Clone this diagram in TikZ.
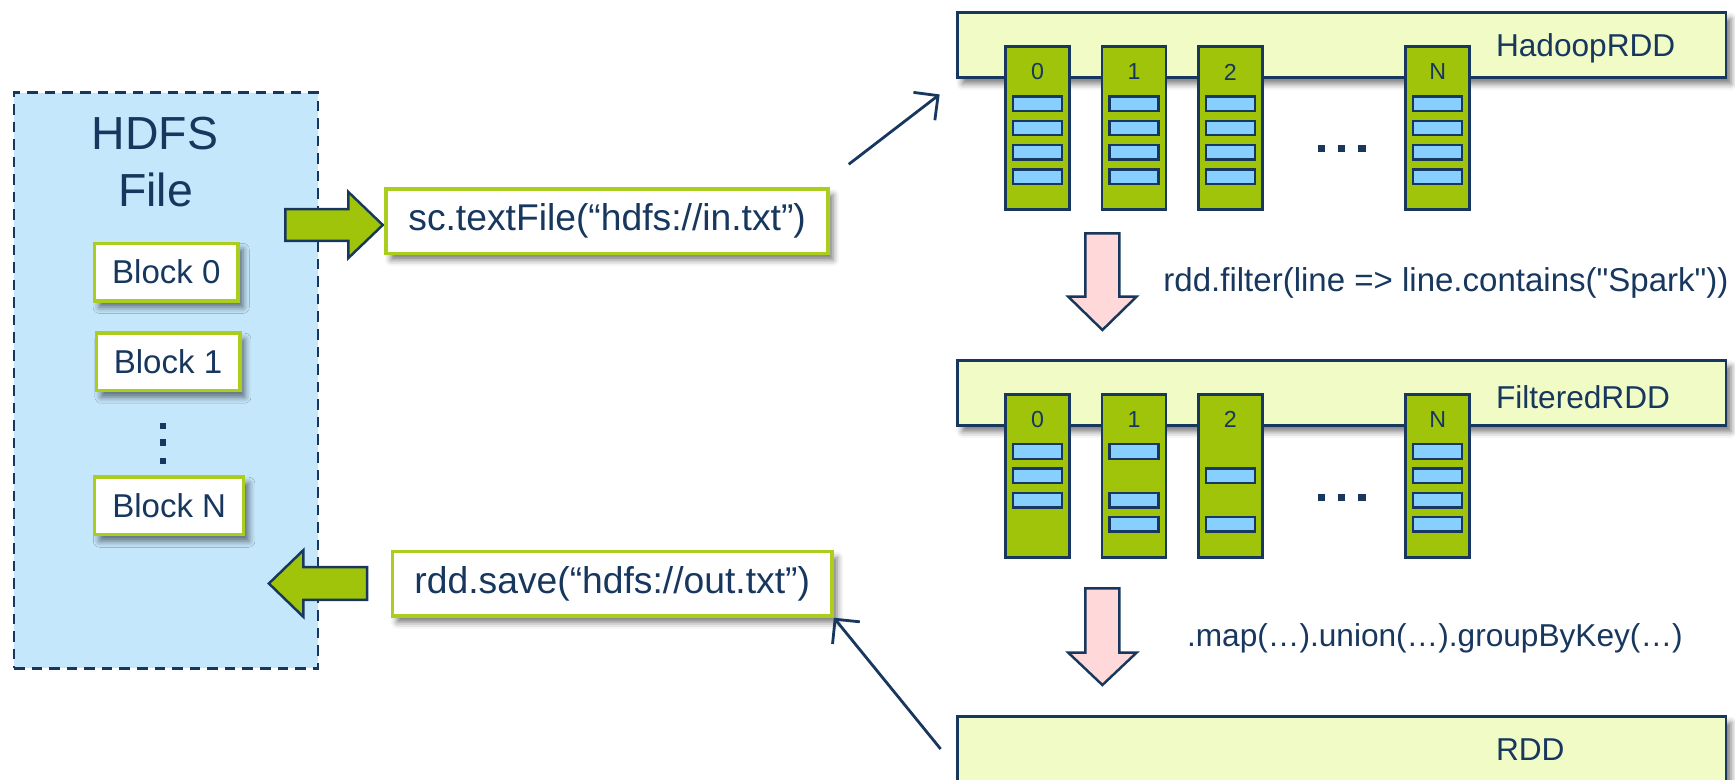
\documentclass[tikz,border=0pt]{standalone}
\usepackage{fontspec}
\setmainfont{Liberation Sans}[Ligatures=TeXOff]
\usetikzlibrary{arrows.meta, calc, shadows.blur}

\definecolor{navy}{HTML}{17375E}
\definecolor{hdfsfill}{HTML}{C5E7FB}
\definecolor{limeedge}{HTML}{AACD1E}
\definecolor{sparkgreen}{HTML}{9FC409}
\definecolor{bandfill}{HTML}{F0FBC5}
\definecolor{barblue}{HTML}{87CFFF}
\definecolor{pinkfill}{HTML}{FFD9D9}

\begin{document}
\begin{tikzpicture}
    \tikzset{
        every node/.style={text=navy, inner sep=0pt},
        softshadow/.style={blur shadow={shadow xshift=1.4pt, shadow yshift=-1.8pt,
            shadow blur radius=1.8pt, shadow opacity=55}},
        hdfsbox/.style={draw=navy, fill=hdfsfill, line width=0.8pt,
            dash pattern=on 3pt off 2pt, minimum width=3.04cm, minimum height=5.756cm},
        block/.style={draw=limeedge, fill=white, line width=1pt, softshadow,
            font=\fontsize{9.4}{11}\selectfont, minimum height=0.574cm, inner xsep=5pt},
        codebox/.style={draw=limeedge, fill=white, line width=1pt, softshadow,
            font=\fontsize{10.6}{12}\selectfont, minimum height=0.643cm, inner xsep=6.3pt},
        band/.style={draw=navy, fill=bandfill, line width=0.8pt, softshadow,
            minimum width=7.683cm, minimum height=0.646cm},
        part/.style={draw=navy, fill=sparkgreen, line width=0.8pt, anchor=north,
            minimum width=0.64cm, minimum height=1.63cm},
        bar/.style={draw=navy, fill=barblue, line width=0.7pt,
            minimum width=0.49cm, minimum height=0.145cm},
        partlabel/.style={font=\fontsize{6.6}{8}\selectfont},
        bandlabel/.style={font=\fontsize{9}{11}\selectfont, anchor=west},
        oplabel/.style={font=\fontsize{9.4}{11}\selectfont, anchor=west},
        biglabel/.style={font=\fontsize{13.2}{16}\selectfont, anchor=base},
        fat/.style={draw=navy, fill=sparkgreen, line width=0.7pt, line join=miter},
        pinkfat/.style={draw=navy, fill=pinkfill, line width=0.7pt, line join=miter},
        link/.style={draw=navy, line width=0.8pt, -{Straight Barb[length=5pt, width=10pt]}}
    }

    % 1. 画布大小
    \useasboundingbox (0,0) rectangle (17.35,7.79);
    \clip (0,0) rectangle (17.35,7.79);

    % 2. 左侧 HDFS 文件
    \node[hdfsbox] (hdfs) at (1.66, 3.986) {};
    \node[biglabel] (hdfsLabel) at (1.55, 6.297) {HDFS};
    \node[biglabel] (fileLabel) at (1.555, 5.723) {File};
    \node[block] (block0) at (1.663, 5.069) {Block 0};
    \node[block] (block1) at (1.680, 4.171) {Block 1};
    \node[block] (blockN) at (1.692, 2.731) {Block N};
    % 竖直省略号
    \foreach \y in {3.532, 3.367, 3.180}
        \fill[navy] (1.603, \y-0.032) rectangle ++(0.06, 0.065);

    % 3. 读入 / 写出 的绿色箭头
    \draw[fat] (2.854,5.382) -- (3.484,5.382) -- (3.484,5.210) -- (3.828,5.540)
        -- (3.484,5.870) -- (3.484,5.698) -- (2.854,5.698) -- cycle;
    \draw[fat] (3.671,1.792) -- (3.033,1.792) -- (3.033,1.622) -- (2.689,1.955)
        -- (3.033,2.288) -- (3.033,2.118) -- (3.671,2.118) -- cycle;

    \node[codebox] (textfile) at (6.071, 5.578) {sc.textFile(“hdfs://in.txt”)};
    \node[codebox] (save) at (6.122, 1.952) {rdd.save(“hdfs://out.txt”)};

    % 4. 三个 RDD 条带
    \node[band] (hadoop) at (13.419, 7.340) {};
    \node[band] (filtered) at (13.419, 3.862) {};
    \node[band] (rdd) at (13.419, 0.300) {};
    \node[bandlabel] (hadoopLabel) at (14.953, 7.307) {HadoopRDD};
    \node[bandlabel] (filteredLabel) at (14.953, 3.823) {FilteredRDD};
    \node[bandlabel] (rddLabel) at (14.953, 0.290) {RDD};

    % 5. 分区 (HadoopRDD: 每个分区 4 条记录)
    \foreach \x/\lab in {10.376/0, 11.340/1, 12.303/2, 14.377/N} {
        \node[part] (h\lab) at (\x, 7.340) {};
        \node[partlabel] (h\lab-num) at ($(h\lab.north)+(0,-0.27)$) {\lab};
        \foreach \s in {1,...,4}
            \node[bar] (h\lab-\s) at ($(h\lab.north)+(0,-0.587-0.243*\s+0.243)$) {};
    }
    % FilteredRDD: 过滤后剩下的记录
    \foreach \x/\lab/\slots in {10.376/0/{1,2,3}, 11.340/1/{1,3,4}, 12.303/2/{2,4}, 14.377/N/{1,2,3,4}} {
        \node[part] (f\lab) at (\x, 3.862) {};
        \node[partlabel] (f\lab-num) at ($(f\lab.north)+(0,-0.27)$) {\lab};
        \foreach \s in \slots
            \node[bar] (f\lab-\s) at ($(f\lab.north)+(0,-0.587-0.243*\s+0.243)$) {};
    }
    % 水平省略号
    \foreach \y in {6.307, 2.817}
        \foreach \x in {13.213, 13.416, 13.619}
            \fill[navy] (\x-0.0375, \y-0.0375) rectangle ++(0.075, 0.075);

    % 6. 转换箭头 (粉色)
    \draw[pinkfat] (10.854,5.457) -- (11.194,5.457) -- (11.194,4.823) -- (11.365,4.823)
        -- (11.024,4.490) -- (10.683,4.823) -- (10.854,4.823) -- cycle;
    \draw[pinkfat] (10.854,1.907) -- (11.194,1.907) -- (11.194,1.263) -- (11.365,1.263)
        -- (11.024,0.940) -- (10.683,1.263) -- (10.854,1.263) -- cycle;
    \node[oplabel] (filterOp) at (11.627, 4.957) {rdd.filter(line => line.contains("Spark"))};
    \node[oplabel, font=\fontsize{9}{11}\selectfont] (mapOp) at (11.863, 1.407) {.map(…).union(…).groupByKey(…)};

    % 7. 连接线
    \coordinate (inStart) at ($(textfile.north east)+(0.19,0.23)$);
    \coordinate (inEnd) at ($(hadoop.south west)+(-0.167,-0.157)$);
    \coordinate (outStart) at ($(rdd.west)+(-0.157,0)$);
    \draw[link] (inStart) -- (inEnd);
    \draw[link] (outStart) -- (save.south east);
\end{tikzpicture}
\end{document}
